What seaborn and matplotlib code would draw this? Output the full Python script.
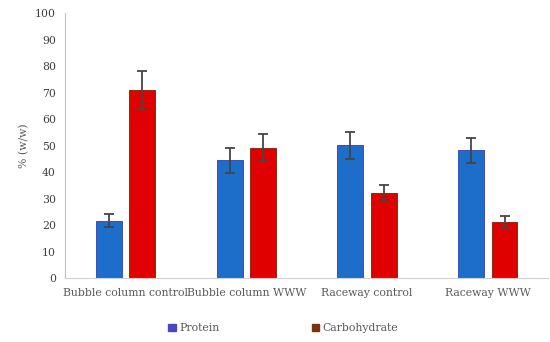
import numpy as np
import pandas as pd
import seaborn as sns
import matplotlib.pyplot as plt
from matplotlib.patches import Patch

# data
categories = ["Bubble column control", "Bubble column WWW", "Raceway control", "Raceway WWW"]
protein = [21.7, 44.4, 50.1, 48.2]
protein_err = [2.3, 4.7, 5.0, 4.8]
carbohydrate = [70.9, 49.2, 32.0, 21.1]
carbohydrate_err = [7.1, 5.0, 3.0, 2.2]
series = ["Protein", "Carbohydrate"]

df = pd.DataFrame({
    "category": categories * 2,
    "component": [series[0]] * 4 + [series[1]] * 4,
    "value": protein + carbohydrate,
})
errs = protein_err + carbohydrate_err

sns.set_style("white")
plt.rcParams["font.family"] = ["DejaVu Serif"]
fs = 7.8

fill = {"Protein": "#1c6ec8", "Carbohydrate": "#e00000"}
edge = {"Protein": "#4848c4", "Carbohydrate": "#7a3510"}

fig, ax = plt.subplots(figsize=(5.5, 3.42), dpi=100)
sns.barplot(data=df, x="category", y="value", hue="component", order=categories,
            hue_order=series, palette=fill, saturation=1, width=0.55, gap=0.22,
            errorbar=None, ax=ax, legend=False)

# bar edges + error bars
for i, p in enumerate(ax.patches[:8]):
    comp = series[i // 4]
    p.set_edgecolor(edge[comp])
    p.set_linewidth(0.7)
    xc = p.get_x() + p.get_width() / 2
    ax.errorbar(xc, p.get_height(), yerr=errs[i], fmt="none", ecolor="#454545",
                elinewidth=1.3, capsize=3.5, capthick=1.3, zorder=5)

ax.set_ylim(0, 100)
ax.set_yticks(range(0, 101, 10))
ax.set_xlim(-0.5, 3.5)
ax.set_xlabel("")
ax.set_ylabel("% (w/w)", color="#595959", fontsize=fs)
ax.tick_params(axis="y", colors="#404040", labelsize=fs, length=3, color="#bfbfbf", width=0.8)
ax.tick_params(axis="x", colors="#595959", labelsize=fs, length=0, pad=7)
for lab in ax.get_yticklabels():
    lab.set_color("#404040")
for s in ["top", "right"]:
    ax.spines[s].set_visible(False)
ax.spines["left"].set_color("#bfbfbf")
ax.spines["bottom"].set_color("#d0d0d0")

handles = [Patch(facecolor=edge[s], edgecolor=edge[s], label=s) for s in series]
leg = fig.legend(handles=handles, loc="center", bbox_to_anchor=(0.515, 0.04), ncol=2,
                 frameon=False, fontsize=fs, handlelength=0.7, handleheight=0.7,
                 handletextpad=0.3, columnspacing=8.5)
for t in leg.get_texts():
    t.set_color("#595959")

fig.subplots_adjust(left=0.118, right=0.997, top=0.962, bottom=0.187)
fig.savefig("out.png", dpi=100)
